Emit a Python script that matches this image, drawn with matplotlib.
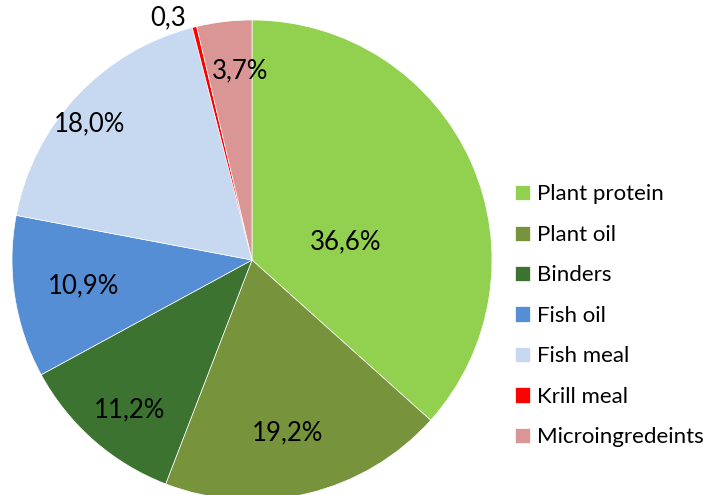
import matplotlib
matplotlib.use("Agg")
import matplotlib.pyplot as plt

labels = ["Plant protein", "Plant oil", "Binders", "Fish oil", "Fish meal",
          "Krill meal", "Microingredeints"]
values = [36.6, 19.2, 11.2, 10.9, 18.0, 0.3, 3.7]
texts = ["36,6%", "19,2%", "11,2%", "10,9%", "18,0%", "0,3", "3,7%"]
colors = ["#92D050", "#77933C", "#3D7330", "#558ED5", "#C6D9F1",
          "#FF0000", "#D99694"]
# label centres, in pie radius units (as placed by the original)
label_xy = [(0.39, 0.075), (0.15, -0.72), (-0.51, -0.625), (-0.70, -0.108),
            (-0.675, 0.567), (-0.35, 1.01), (-0.05, 0.79)]

plt.rcParams['font.family'] = ['Lato', 'DejaVu Sans']

fig = plt.figure(figsize=(7.14, 4.95), dpi=100)
ax = fig.add_axes([0.0168, -0.0101, 0.6723, 0.9697])
wedges, _ = ax.pie(values, colors=colors, startangle=90, counterclock=False,
                   radius=1, wedgeprops=dict(linewidth=0.5, edgecolor="white"))
ax.set_xlim(-1, 1)
ax.set_ylim(-1, 1)
ax.set_aspect("equal")

for t, (x, y) in zip(texts, label_xy):
    ax.text(x, y, t, ha="center", va="center", fontsize=18.5, color="black")

fig.legend(wedges, labels, loc="center left", bbox_to_anchor=(0.7213, 0.362),
           frameon=False, fontsize=16, handlelength=0.675, handleheight=0.675,
           handletextpad=0.31, labelspacing=0.92, borderpad=0,
           borderaxespad=0)

fig.savefig("out.png", dpi=100)
